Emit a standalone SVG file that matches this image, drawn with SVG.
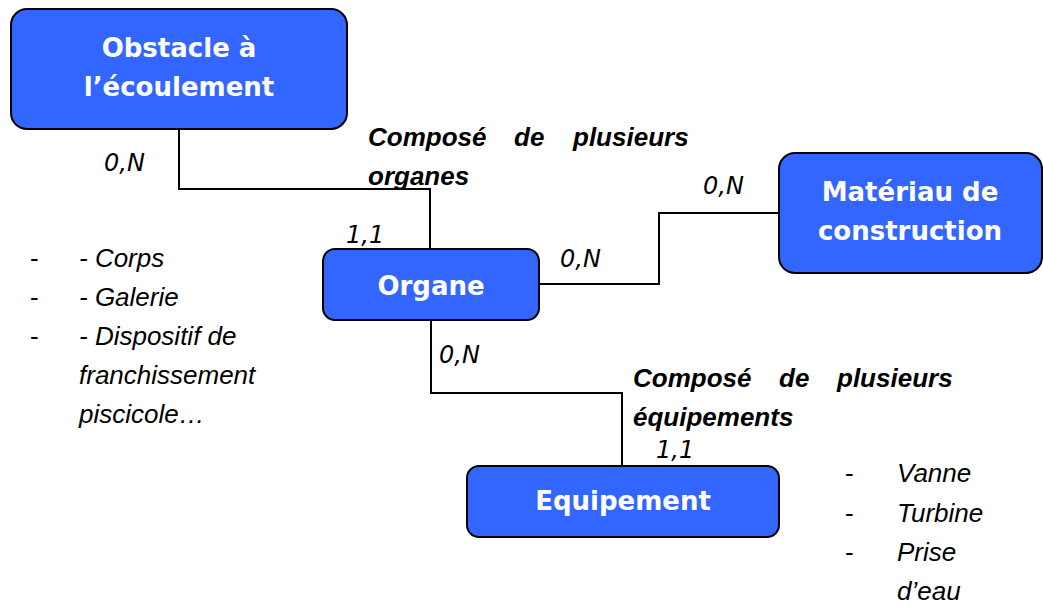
<svg xmlns="http://www.w3.org/2000/svg" width="1043" height="610" viewBox="0 0 1043 610">
<style>
.box{fill:#3366FF;stroke:#000;stroke-width:2}
.nt{font-family:"DejaVu Sans",Verdana,sans-serif;font-weight:bold;font-size:26px;fill:#fff;text-anchor:middle}
.card{font-family:"DejaVu Sans",Verdana,sans-serif;font-style:oblique;font-size:24px;fill:#000}
.rel{font-family:"Liberation Sans",Arial,sans-serif;font-weight:bold;font-style:italic;font-size:26px;fill:#000}
.lst{font-family:"Liberation Sans",Arial,sans-serif;font-style:italic;font-size:26px;fill:#000}
.dash{font-family:"Liberation Sans",Arial,sans-serif;font-size:26px;fill:#000}
.con{fill:none;stroke:#000;stroke-width:2}
</style>
<rect width="1043" height="610" fill="#fff"/>
<g id="connectors">
<polyline class="con" points="179,129 179,189 430,189 430,249"/>
<polyline class="con" points="539,284 659,284 659,213 779,213"/>
<polyline class="con" points="431,320 431,393 622,393 622,466"/>
</g>
<g id="node-obstacle">
<rect class="box" x="11" y="9" width="336" height="120" rx="16"/>
<text class="nt" x="179" y="57">Obstacle à</text>
<text class="nt" x="179" y="96">l’écoulement</text>
</g>
<g id="node-organe">
<rect class="box" x="323" y="249" width="216" height="71" rx="12"/>
<text class="nt" x="431" y="295">Organe</text>
</g>
<g id="node-materiau">
<rect class="box" x="779" y="153" width="263" height="120" rx="16"/>
<text class="nt" x="910" y="201">Matériau de</text>
<text class="nt" x="910" y="240">construction</text>
</g>
<g id="node-equipement">
<rect class="box" x="467" y="466" width="312" height="71" rx="12"/>
<text class="nt" x="623" y="510">Equipement</text>
</g>
<g id="labels">
<text class="card" x="104" y="171">0,N</text>
<text class="card" x="346" y="243">1,1</text>
<text class="card" x="560" y="267">0,N</text>
<text class="card" x="703" y="194">0,N</text>
<text class="card" x="439" y="363">0,N</text>
<text class="card" x="656" y="458">1,1</text>
<text class="rel" y="146"><tspan x="368">Composé</tspan><tspan x="514">de</tspan><tspan x="573">plusieurs</tspan></text>
<text class="rel" x="368" y="185">organes</text>
<text class="rel" y="387"><tspan x="633">Composé</tspan><tspan x="779">de</tspan><tspan x="837">plusieurs</tspan></text>
<text class="rel" x="633" y="426">équipements</text>
</g>
<g id="list-organes">
<text class="dash" x="30" y="267">-</text>
<text class="dash" x="30" y="306">-</text>
<text class="dash" x="30" y="345">-</text>
<text class="lst" x="79" y="267">- Corps</text>
<text class="lst" x="79" y="306">- Galerie</text>
<text class="lst" x="79" y="345">- Dispositif de</text>
<text class="lst" x="79" y="384">franchissement</text>
<text class="lst" x="79" y="423">piscicole…</text>
</g>
<g id="list-equipements">
<text class="dash" x="845" y="482">-</text>
<text class="dash" x="845" y="522">-</text>
<text class="dash" x="845" y="561">-</text>
<text class="lst" x="897" y="482">Vanne</text>
<text class="lst" x="897" y="522">Turbine</text>
<text class="lst" x="897" y="561">Prise</text>
<text class="lst" x="897" y="600">d’eau</text>
</g>
</svg>
